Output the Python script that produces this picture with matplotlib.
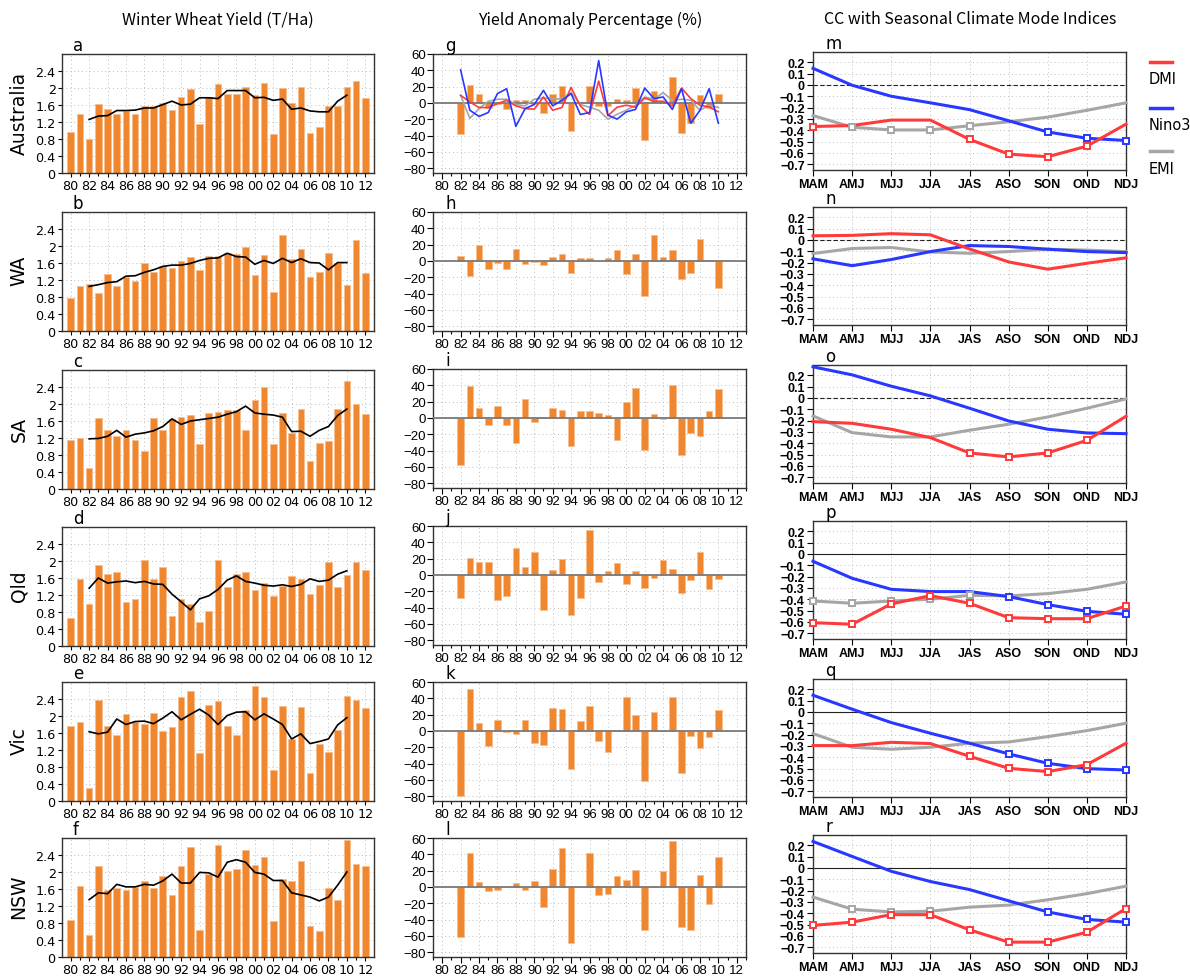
import numpy as np
import matplotlib
matplotlib.use('Agg')
import matplotlib.pyplot as plt
from matplotlib.ticker import MultipleLocator
from matplotlib.lines import Line2D

# ---- data ----
years = np.arange(1980, 2013)
trend_years = np.arange(1982, 2011)
regions = ['Australia', 'WA', 'SA', 'Qld', 'Vic', 'NSW']
seasons = ['MAM', 'AMJ', 'MJJ', 'JJA', 'JAS', 'ASO', 'SON', 'OND', 'NDJ']

# winter wheat yield (T/Ha), 1980-2012
yield_aus = [0.97, 1.38, 0.79, 1.63, 1.50, 1.38, 1.46, 1.38, 1.58, 1.58, 1.64, 1.48, 1.78, 1.97, 1.15, 1.78, 2.10,
             1.85, 1.86, 2.03, 1.83, 2.11, 0.92, 2.00, 1.64, 2.03, 0.93, 1.09, 1.58, 1.58, 2.03, 2.16, 1.77]
yield_wa = [0.78, 1.05, 1.10, 0.89, 1.35, 1.05, 1.27, 1.17, 1.59, 1.38, 1.52, 1.48, 1.64, 1.75, 1.43, 1.76, 1.77,
            1.84, 1.81, 1.98, 1.31, 1.79, 0.91, 2.27, 1.69, 1.92, 1.28, 1.38, 1.83, 1.61, 1.09, 2.15, 1.37]
yield_sa = [1.15, 1.19, 0.50, 1.66, 1.38, 1.24, 1.40, 1.16, 0.89, 1.68, 1.40, 1.65, 1.69, 1.74, 1.07, 1.79, 1.82,
            1.87, 1.87, 1.40, 2.10, 2.40, 1.07, 1.79, 1.32, 1.88, 0.67, 1.08, 1.13, 1.88, 2.54, 2.01, 1.77]
yield_qld = [0.67, 1.58, 0.98, 1.91, 1.70, 1.74, 1.04, 1.11, 2.02, 1.58, 1.87, 0.70, 1.10, 1.00, 0.56, 0.82, 2.02,
             1.40, 1.69, 1.74, 1.32, 1.49, 1.17, 1.41, 1.65, 1.57, 1.22, 1.43, 1.98, 1.40, 1.68, 1.98, 1.80]
yield_vic = [1.77, 1.87, 0.31, 2.38, 1.77, 1.55, 2.05, 1.85, 1.81, 2.06, 1.64, 1.73, 2.45, 2.59, 1.13, 2.25, 2.35,
             1.76, 1.55, 2.15, 2.70, 2.45, 0.72, 2.23, 1.46, 2.21, 0.66, 1.33, 1.15, 1.66, 2.46, 2.37, 2.20]
yield_nsw = [0.88, 1.66, 0.52, 2.13, 1.57, 1.63, 1.57, 1.65, 1.79, 1.62, 1.91, 1.47, 2.13, 2.59, 0.63, 1.96, 2.63,
             2.02, 2.08, 2.52, 2.16, 2.35, 0.85, 1.84, 1.79, 2.27, 0.73, 0.61, 1.62, 1.35, 2.75, 2.20, 2.14]

# yield trend (black line), 1982-2010
trend_aus = [1.26, 1.34, 1.35, 1.47, 1.47, 1.48, 1.53, 1.53, 1.61, 1.69, 1.60, 1.62, 1.77, 1.77, 1.75,
             1.94, 1.94, 1.94, 1.77, 1.78, 1.71, 1.74, 1.50, 1.53, 1.46, 1.44, 1.44, 1.69, 1.83]
trend_wa = [1.05, 1.09, 1.14, 1.16, 1.29, 1.30, 1.38, 1.44, 1.52, 1.55, 1.55, 1.59, 1.66, 1.71, 1.72,
            1.83, 1.75, 1.74, 1.57, 1.66, 1.59, 1.71, 1.61, 1.70, 1.61, 1.60, 1.44, 1.61, 1.61]
trend_sa = [1.18, 1.19, 1.24, 1.38, 1.22, 1.29, 1.32, 1.37, 1.47, 1.65, 1.52, 1.60, 1.63, 1.66, 1.69,
            1.76, 1.82, 1.95, 1.79, 1.76, 1.74, 1.69, 1.35, 1.36, 1.24, 1.38, 1.47, 1.73, 1.88]
trend_qld = [1.36, 1.60, 1.48, 1.51, 1.53, 1.49, 1.52, 1.46, 1.45, 1.22, 1.04, 0.85, 1.11, 1.18, 1.33,
             1.55, 1.65, 1.52, 1.48, 1.43, 1.41, 1.44, 1.40, 1.45, 1.58, 1.52, 1.55, 1.69, 1.77]
trend_vic = [1.63, 1.58, 1.62, 1.93, 1.80, 1.87, 1.88, 1.82, 1.95, 2.10, 1.91, 2.04, 2.16, 2.02, 1.80,
             2.01, 2.09, 2.10, 1.91, 2.05, 1.93, 1.80, 1.46, 1.58, 1.35, 1.40, 1.46, 1.79, 1.96]
trend_nsw = [1.35, 1.51, 1.49, 1.71, 1.65, 1.65, 1.71, 1.69, 1.79, 1.95, 1.74, 1.74, 1.99, 1.98, 1.88,
             2.23, 2.29, 2.23, 1.99, 1.95, 1.80, 1.80, 1.51, 1.46, 1.41, 1.32, 1.41, 1.69, 2.00]

# yield anomaly percentage (%), 1982-2010
anom_aus = [-38.5, 21.5, 11.4, -6, -1, -8, 4, 3, -1, -12.6, 11.4, 20.3, -35, 1, 20.3,
            -4, -4, 5.3, 4, 18.6, -46, 15, 1.5, 31.6, -36.5, -24.7, 10, -5.7, 11.4]
anom_wa = [6, -18.8, 20, -9.4, -2, -9.4, 15, -3.3, -0.8, -5.3, 5.3, 8.2, -15, 3.3, 3.3,
           0.4, 4, 13.5, -16.3, 8.2, -42.9, 31.8, 4.9, 13, -21.6, -15, 26.9, 0.8, -33]
anom_sa = [-58, 39, 11.8, -9, 15, -9, -31.4, 23.7, -4.9, 1.2, 12.7, 9.8, -34.3, 8.2, 8.2,
           6.5, 3.7, -27.3, 19.2, 37.1, -38.8, 5.3, -1.6, 40, -45.7, -18.4, -22.4, 9, 35.9]
anom_qld = [-28, 20.7, 16.2, 15.4, -30.8, -26, 32.4, 9.3, 28, -43.4, 5.7, 19.9, -48.6, -28, 55.1,
            -8.9, 4.5, 14.2, -11.4, 5.3, -16.2, -3.2, 17.8, 7.7, -21.9, -5.7, 28, -17, -4.5]
anom_vic = [-80.3, 51, 9.7, -18.6, 13.8, -1.6, -3.2, 13.4, -15.4, -17, 28, 27.2, -47, 11.8, 30,
            -12.6, -26.3, 1.2, 41, 19.9, -61.6, 22.7, 0, 41, -51.5, -5.7, -20.7, -6.9, 25.1]
anom_nsw = [-61.6, 41.6, 6.1, -4.9, -3.7, -0.4, 4.5, -3.7, 7.3, -24.9, 22, 47.3, -69, 0, 41.6,
            -9.8, -9, 13, 8.2, 20.8, -53, 1.6, 19.2, 56.7, -48.6, -53, 14.3, -21.2, 37.1]

# lines drawn over panel g, 1982-2010
g_red = [9.3, 1.2, -5.7, -5.7, -1, 3.2, -3.6, -7, -7.7, 7.3, -9, -5.7, 19, -3.6, -14.2,
         26.8, -15.8, -5.3, -2.8, -5.3, 6, 2, 2, -3.6, 18.2, 5.3, -2.8, -5, -11]
g_blue = [40.5, -9, -16.6, -11.8, 11.4, 17.4, -28.8, -7, -2, 15.4, -3.6, 3.2, 11.4, -14.2, -11.8,
          51.9, -15, -19.9, -11, -8, 18.2, 5.3, 7.3, -8, 17.4, -25, -9, 17.4, -25]
g_gray = [9.3, -19, -7, 2, 4.5, 4.5, -2, -3.6, 4.5, 6, 5.3, 4.5, 12.6, -2, -5.3,
          -9, -20, -14, -9, -2.8, 7.3, 4.5, 12.6, 3.2, 4.5, 3.2, -9, -2.8, -5.7]

# correlation with seasonal climate mode indices
dmi_cc = [
    [-0.367, -0.358, -0.31, -0.31, -0.48, -0.61, -0.633, -0.54, -0.346],
    [0.036, 0.04, 0.055, 0.045, -0.08, -0.194, -0.258, -0.206, -0.158],
    [-0.209, -0.224, -0.276, -0.35, -0.485, -0.52, -0.485, -0.374, -0.162],
    [-0.606, -0.62, -0.441, -0.368, -0.435, -0.562, -0.571, -0.571, -0.459],
    [-0.297, -0.297, -0.268, -0.279, -0.391, -0.497, -0.526, -0.465, -0.276],
    [-0.507, -0.478, -0.412, -0.412, -0.546, -0.654, -0.654, -0.567, -0.358],
]
nino3_cc = [
    [0.146, -0.003, -0.1, -0.158, -0.218, -0.316, -0.415, -0.47, -0.49],
    [-0.167, -0.227, -0.173, -0.103, -0.05, -0.058, -0.082, -0.103, -0.112],
    [0.274, 0.203, 0.103, 0.018, -0.091, -0.203, -0.276, -0.309, -0.315],
    [-0.065, -0.215, -0.312, -0.332, -0.332, -0.376, -0.447, -0.506, -0.532],
    [0.147, 0.024, -0.094, -0.188, -0.276, -0.37, -0.453, -0.5, -0.512],
    [0.233, 0.101, -0.03, -0.12, -0.191, -0.29, -0.388, -0.454, -0.478],
]
emi_cc = [
    [-0.27, -0.373, -0.397, -0.397, -0.36, -0.325, -0.284, -0.224, -0.158],
    [-0.12, -0.076, -0.067, -0.106, -0.118, -0.103, -0.082, -0.09, -0.103],
    [-0.159, -0.306, -0.344, -0.344, -0.285, -0.232, -0.168, -0.091, -0.009],
    [-0.415, -0.435, -0.415, -0.4, -0.365, -0.37, -0.35, -0.312, -0.247],
    [-0.191, -0.312, -0.329, -0.312, -0.276, -0.265, -0.218, -0.165, -0.1],
    [-0.257, -0.364, -0.388, -0.382, -0.346, -0.328, -0.281, -0.227, -0.161],
]
# seasons marked with squares
dmi_sig = [[0, 4, 5, 6, 7], [], [4, 5, 6, 7], [0, 1, 2, 3, 4, 5, 6, 7, 8], [4, 5, 6, 7], [0, 1, 2, 3, 4, 5, 6, 7, 8]]
nino3_sig = [[6, 7, 8], [], [], [5, 6, 7, 8], [5, 6, 7, 8], [6, 7, 8]]
emi_sig = [[1, 2, 3, 4], [], [], [0, 1, 2, 3, 4], [], [1, 2, 3]]

yields = [yield_aus, yield_wa, yield_sa, yield_qld, yield_vic, yield_nsw]
trends = [trend_aus, trend_wa, trend_sa, trend_qld, trend_vic, trend_nsw]
anoms = [anom_aus, anom_wa, anom_sa, anom_qld, anom_vic, anom_nsw]

ORANGE = '#F0862E'
EDGE = '#F8BE90'
RED = '#FF3A3A'
BLUE = '#2838FF'
GRAY = '#A6A6A6'
GRID = dict(color='#BDBDBD', linestyle=(0, (1, 3)), linewidth=0.7)

W, H = 1190, 978
fig = plt.figure(figsize=(W / 100, H / 100), dpi=100)


def box(left, top, w, h):
    return [left / W, 1 - (top + h) / H, w / W, h / H]


def yr_lab(y):
    return '%02d' % (y % 100)


def fmt_num(v):
    s = ('%.1f' % v).rstrip('0').rstrip('.')
    if s == '-0':
        s = '0'
    return s.replace('-', '\u2212')


def style_spines(ax):
    for sp in ax.spines.values():
        sp.set_color('#333333')
        sp.set_linewidth(1.0)


tops1 = [55, 213, 371, 528, 683, 839]
tops2 = [55, 213, 370, 527, 683, 839]
tops3 = [53, 208, 366, 522, 680, 836]
letters1 = 'abcdef'
letters2 = 'ghijkl'
letters3 = 'mnopqr'

for i in range(6):
    # ---- column 1: yield bars + trend ----
    ax = fig.add_axes(box(62, tops1[i], 312, 119))
    ax.bar(years, yields[i], width=0.72, color=ORANGE, edgecolor=EDGE, linewidth=0.6, zorder=2)
    ax.plot(trend_years, trends[i], color='black', lw=1.2, zorder=3)
    ax.set_xlim(1979.05, 2012.95)
    ax.set_ylim(0, 2.8)
    yt = [0, 0.4, 0.8, 1.2, 1.6, 2.0, 2.4]
    ax.set_yticks(yt)
    ax.set_yticklabels([fmt_num(v) for v in yt])
    ax.set_xticks(years[::2])
    ax.set_xticklabels([yr_lab(y) for y in years[::2]])
    ax.xaxis.set_minor_locator(MultipleLocator(1))
    ax.grid(True, **GRID)
    ax.set_axisbelow(True)
    ax.tick_params(labelsize=9.2, length=3, width=0.8, pad=1.5, direction='out')
    ax.tick_params(which='minor', length=2.5, width=0.8)
    style_spines(ax)
    ax.text(0.035, 1.0, letters1[i], transform=ax.transAxes, fontsize=12, va='bottom', ha='left')
    fig.text(19 / W, 1 - (tops1[i] + 58) / H, regions[i], rotation=90, va='center', ha='center',
             fontsize=13.5)

    # ---- column 2: anomaly percentage ----
    ax = fig.add_axes(box(433, tops2[i], 313, 119))
    ax.bar(trend_years, anoms[i], width=0.72, color=ORANGE, edgecolor=EDGE, linewidth=0.6, zorder=2)
    ax.axhline(0, color='#7a7a7a', lw=1.3, zorder=3)
    if i == 0:
        ax.plot(trend_years, g_gray, color=GRAY, lw=1.2, zorder=4)
        ax.plot(trend_years, g_red, color=RED, lw=1.2, zorder=5)
        ax.plot(trend_years, g_blue, color=BLUE, lw=1.2, zorder=6)
    ax.set_xlim(1979.0, 2013.0)
    ax.set_ylim(-86, 60)
    yt = np.arange(-80, 61, 20)
    ax.set_yticks(yt)
    ax.set_yticklabels([fmt_num(v) for v in yt])
    ax.set_xticks(years[::2])
    ax.set_xticklabels([yr_lab(y) for y in years[::2]])
    ax.xaxis.set_minor_locator(MultipleLocator(1))
    ax.grid(True, **GRID)
    ax.set_axisbelow(True)
    ax.tick_params(labelsize=9.5, length=4, width=0.8, pad=1.2, direction='out')
    ax.tick_params(which='minor', length=2.5, width=0.8)
    for lab in ax.get_xticklabels() + ax.get_yticklabels():
        lab.set_fontfamily('Liberation Sans')
    style_spines(ax)
    ax.text(0.04, 1.0, letters2[i], transform=ax.transAxes, fontsize=12, va='bottom', ha='left')

    # ---- column 3: correlation coefficients ----
    ax = fig.add_axes(box(813, tops3[i], 313, 118))
    xs = np.arange(len(seasons))
    ls0 = (0, (4, 2)) if i < 3 else '-'
    ax.axhline(0, color='#222222', lw=0.8, ls=ls0, zorder=2)
    for vals, sig, col in [(emi_cc[i], emi_sig[i], GRAY), (nino3_cc[i], nino3_sig[i], BLUE),
                           (dmi_cc[i], dmi_sig[i], RED)]:
        ax.plot(xs, vals, color=col, lw=2.2, zorder=3, clip_on=False)
        if sig:
            ax.plot(xs[sig], np.array(vals)[sig], ls='none', marker='s', ms=4.5, mfc='white',
                    mec=col, mew=1.4, zorder=4, clip_on=False)
    ax.set_xlim(0, 8)
    ax.set_ylim(-0.75, 0.29)
    yt = np.round(np.arange(-0.7, 0.21, 0.1), 1)
    ax.set_yticks(yt)
    ax.set_yticklabels([fmt_num(v) for v in yt])
    ax.set_xticks(xs)
    ax.set_xticklabels(seasons)
    ax.grid(True, **GRID)
    ax.set_axisbelow(True)
    ax.tick_params(labelsize=9, length=4, width=0.8, pad=2, direction='out')
    for lab in ax.get_xticklabels() + ax.get_yticklabels():
        lab.set_fontfamily('Liberation Sans')
        lab.set_fontweight('bold')
    style_spines(ax)
    ax.text(0.04, 1.0, letters3[i], transform=ax.transAxes, fontsize=12, va='bottom', ha='left')

# column titles
fig.text(218 / W, 1 - 20 / H, 'Winter Wheat Yield (T/Ha)', ha='center', va='center', fontsize=11.5,
         family='Noto Sans CJK JP')
fig.text(590 / W, 1 - 20 / H, 'Yield Anomaly Percentage (%)', ha='center', va='center', fontsize=11.5,
         family='Noto Sans CJK JP')
fig.text(970 / W, 1 - 20 / H, 'CC with Seasonal Climate Mode Indices', ha='center', va='center', fontsize=11.5,
         family='Noto Sans CJK JP')

# legend for column 3
for name, col, ly in [('DMI', RED, 63), ('Nino3', BLUE, 109), ('EMI', GRAY, 152)]:
    fig.add_artist(Line2D([1150 / W, 1172 / W], [1 - ly / H, 1 - ly / H], color=col, lw=2.5))
    fig.text(1149 / W, 1 - (ly + 17) / H, name, ha='left', va='center', fontsize=10.5)

fig.savefig('out.png', dpi=100)
